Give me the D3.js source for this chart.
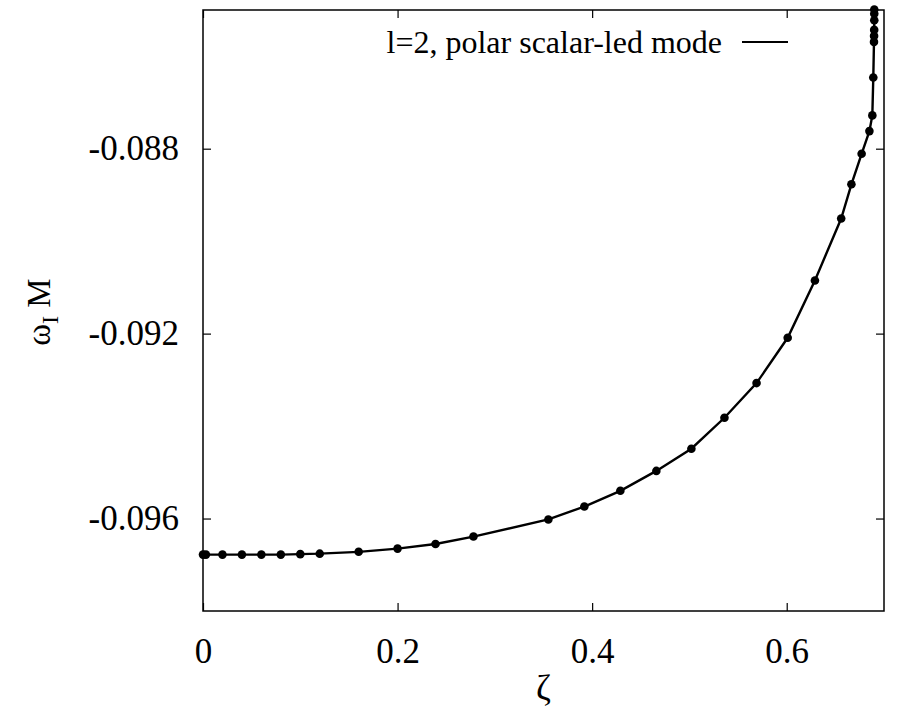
<!DOCTYPE html>
<html>
<head>
<meta charset="utf-8">
<script src="https://cdn.jsdelivr.net/npm/d3@7"></script>
<style>
  body { margin: 0; background: #fff; }
  svg text { font-family: "Liberation Serif", "Times New Roman", serif; fill: #000; }
</style>
</head>
<body>
<div id="container"></div>
<script>
// zeta values and omega_I * M
var zeta = [0, 0.003, 0.02, 0.04, 0.06, 0.08, 0.10, 0.12, 0.16, 0.20, 0.239, 0.278,
  0.355, 0.392, 0.429, 0.466, 0.502, 0.536, 0.569, 0.601, 0.629, 0.656, 0.6665,
  0.677, 0.685, 0.688, 0.689, 0.6897, 0.6898, 0.6899, 0.690, 0.690, 0.690];
var omegaI = [-0.09678, -0.09678, -0.09678, -0.09678, -0.09678, -0.09678, -0.09677,
  -0.09676, -0.09672, -0.09665, -0.09655, -0.09639, -0.09602, -0.09574, -0.09540,
  -0.09497, -0.09449, -0.09382, -0.09307, -0.09209, -0.09085, -0.08951, -0.08877,
  -0.08811, -0.08762, -0.08728, -0.08646, -0.08569, -0.08556, -0.08543, -0.08522,
  -0.08508, -0.08499];
var xTicks = [0, 0.2, 0.4, 0.6];
var yTicks = [-0.096, -0.092, -0.088];
var xDomain = [0, 0.7];
var yDomain = [-0.098, -0.085];
var legendLabel = 'l=2, polar scalar-led mode';

var width = 899, height = 712;
var mLeft = 203, mRight = 884, mTop = 10, mBottom = 611;

var svg = d3.select('#container')
  .append('svg')
  .attr('width', width)
  .attr('height', height)
  .style('background-color', 'white');

var x = d3.scaleLinear().domain(xDomain).range([mLeft, mRight]);
var y = d3.scaleLinear().domain(yDomain).range([mBottom, mTop]);

var data = zeta.map(function(z, i) { return [z, omegaI[i]]; });

// plain hyphen minus like gnuplot
var fmtY = function(d) { return d3.format('.3f')(d).replace('\u2212', '-'); };

// axes, ticks pointing inward
var xAxis = d3.axisBottom(x).tickValues(xTicks)
  .tickFormat(d3.format('')).tickSizeInner(-8).tickSizeOuter(0).tickPadding(27);
var xTop = d3.axisTop(x).tickValues(xTicks)
  .tickFormat('').tickSizeInner(-8).tickSizeOuter(0);
var yAxis = d3.axisLeft(y).tickValues(yTicks)
  .tickFormat(fmtY).tickSizeInner(-8).tickSizeOuter(0).tickPadding(24);
var yRight = d3.axisRight(y).tickValues(yTicks)
  .tickFormat('').tickSizeInner(-8).tickSizeOuter(0);

function styleAxis(g) {
  g.select('.domain').remove();
  g.selectAll('line').attr('stroke', '#000').attr('stroke-width', 1.2);
  g.selectAll('text')
    .style('font-family', '"Liberation Serif", serif')
    .style('font-size', '35px')
    .attr('fill', '#000');
}

svg.append('g').attr('transform', 'translate(0,' + mBottom + ')').call(xAxis).call(styleAxis);
svg.append('g').attr('transform', 'translate(0,' + mTop + ')').call(xTop).call(styleAxis);
svg.append('g').attr('transform', 'translate(' + mLeft + ',0)').call(yAxis).call(styleAxis);
svg.append('g').attr('transform', 'translate(' + mRight + ',0)').call(yRight).call(styleAxis);

// frame
svg.append('rect')
  .attr('x', mLeft).attr('y', mTop)
  .attr('width', mRight - mLeft).attr('height', mBottom - mTop)
  .attr('fill', 'none').attr('stroke', '#000').attr('stroke-width', 1.5);

// curve + points
var line = d3.line().x(function(d) { return x(d[0]); }).y(function(d) { return y(d[1]); });

svg.append('path')
  .datum(data)
  .attr('d', line)
  .attr('fill', 'none')
  .attr('stroke', '#000')
  .attr('stroke-width', 2.4);

svg.selectAll('circle.pt')
  .data(data)
  .enter()
  .append('circle')
  .attr('class', 'pt')
  .attr('cx', function(d) { return x(d[0]); })
  .attr('cy', function(d) { return y(d[1]); })
  .attr('r', 4.3)
  .attr('fill', '#000');

// legend
svg.append('text')
  .attr('x', 722).attr('y', 53)
  .attr('text-anchor', 'end')
  .style('font-size', '32px')
  .text(legendLabel);
svg.append('line')
  .attr('x1', 742).attr('x2', 788)
  .attr('y1', 42).attr('y2', 42)
  .attr('stroke', '#000').attr('stroke-width', 2.2);

// axis titles
svg.append('text')
  .attr('x', (mLeft + mRight) / 2).attr('y', 700)
  .attr('text-anchor', 'middle')
  .style('font-size', '36px')
  .text('ζ');

var yl = svg.append('text')
  .attr('transform', 'translate(50,312) rotate(-90)')
  .attr('text-anchor', 'middle')
  .style('font-size', '33px');
yl.append('tspan').text('ω');
yl.append('tspan').attr('dy', 8).style('font-size', '24px').text('I');
yl.append('tspan').attr('dy', -8).text(' M');
</script>
</body>
</html>
